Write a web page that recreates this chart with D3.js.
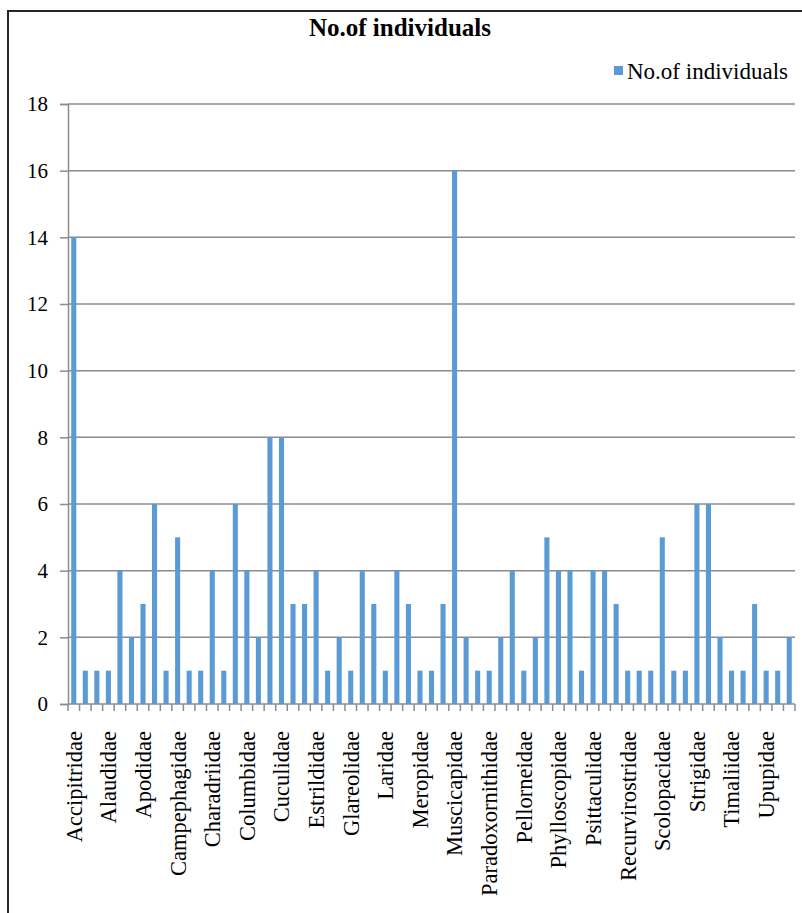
<!DOCTYPE html>
<html>
<head>
<meta charset="utf-8">
<script src="https://cdn.jsdelivr.net/npm/d3@7/dist/d3.min.js"></script>
<style>
  html, body { margin: 0; padding: 0; background: #fff; }
  svg { display: block; }
  svg text { font-family: "Liberation Serif", "Times New Roman", serif; }
</style>
</head>
<body>
<div id="chart"></div>
<script>
// ── Data ──────────────────────────────────────────────────────────────────────
// 63 bird families; the chart only prints every third name on the axis.

const families = [
  'Accipitridae', 'Acrocephalidae', 'Aegithalidae',
  'Alaudidae', 'Alcedinidae', 'Anatidae',
  'Apodidae', 'Ardeidae', 'Burhinidae',
  'Campephagidae', 'Caprimulgidae', 'Certhiidae',
  'Charadriidae', 'Ciconiidae', 'Cisticolidae',
  'Columbidae', 'Coraciidae', 'Corvidae',
  'Cuculidae', 'Dicaeidae', 'Dicruridae',
  'Estrildidae', 'Falconidae', 'Fringillidae',
  'Glareolidae', 'Hirundinidae', 'Jacanidae',
  'Laridae', 'Leiothrichidae', 'Megalaimidae',
  'Meropidae', 'Monarchidae', 'Motacillidae',
  'Muscicapidae', 'Nectariniidae', 'Oriolidae',
  'Paradoxornithidae', 'Paridae', 'Passeridae',
  'Pellorneidae', 'Phalacrocoracidae', 'Phasianidae',
  'Phylloscopidae', 'Picidae', 'Podicipedidae',
  'Psittaculidae', 'Pycnonotidae', 'Rallidae',
  'Recurvirostridae', 'Rhipiduridae', 'Rostratulidae',
  'Scolopacidae', 'Sittidae', 'Stenostiridae',
  'Strigidae', 'Sturnidae', 'Sylviidae',
  'Timaliidae', 'Turdidae', 'Turnicidae',
  'Upupidae', 'Vangidae', 'Zosteropidae',
];

const individuals = [
  14, 1, 1,   1, 4, 2,   3, 6, 1,   5, 1, 1,
  4, 1, 6,    4, 2, 8,   8, 3, 3,   4, 1, 2,
  1, 4, 3,    1, 4, 3,   1, 1, 3,   16, 2, 1,
  1, 2, 4,    1, 2, 5,   4, 4, 1,   4, 4, 3,
  1, 1, 1,    5, 1, 1,   6, 6, 2,   1, 1, 3,
  1, 1, 2,
];

const yTicks = [0, 2, 4, 6, 8, 10, 12, 14, 16, 18];
const seriesName = 'No.of individuals';
const chartTitle = 'No.of individuals';

// ── Layout ────────────────────────────────────────────────────────────────────

const W = 802, H = 913;
const plot = { left: 68, right: 795, top: 104, bottom: 704 };
const barColor = '#5B9BD5';
const lineColor = '#8C8C8C';
const serif = '"Liberation Serif", "Times New Roman", serif';

const svg = d3.select('#chart')
  .append('svg')
  .attr('width', W)
  .attr('height', H)
  .attr('viewBox', `0 0 ${W} ${H}`);

// outer frame (right / bottom edges fall off the picture)
svg.append('rect')
  .attr('x', 8).attr('y', 11)
  .attr('width', W).attr('height', H)
  .attr('fill', '#fff')
  .attr('stroke', '#262626')
  .attr('stroke-width', 2);

// ── Scales ────────────────────────────────────────────────────────────────────

const x = d3.scaleBand()
  .domain(families)
  .range([plot.left, plot.right])
  .paddingInner(0.56)
  .paddingOuter(0.28);

const y = d3.scaleLinear()
  .domain([0, 18])
  .range([plot.bottom, plot.top]);

// ── Gridlines + y axis ────────────────────────────────────────────────────────

const yAxis = svg.append('g')
  .attr('transform', `translate(${plot.left},0)`)
  .call(d3.axisLeft(y).tickValues(yTicks).tickSize(8).tickPadding(12));

yAxis.select('.domain').attr('stroke', lineColor).attr('stroke-width', 1.5);
yAxis.selectAll('.tick line').attr('stroke', lineColor).attr('stroke-width', 1.5);
yAxis.selectAll('.tick text')
  .attr('font-size', 21)
  .attr('font-family', serif)
  .attr('fill', '#000');

svg.append('g')
  .selectAll('line')
  .data(yTicks.filter((t) => t > 0))
  .join('line')
  .attr('x1', plot.left)
  .attr('x2', plot.right)
  .attr('y1', (d) => y(d))
  .attr('y2', (d) => y(d))
  .attr('stroke', lineColor)
  .attr('stroke-width', 1.5);

// ── Bars ──────────────────────────────────────────────────────────────────────

const data = families.map((f, i) => ({ label: f, value: individuals[i] }));

svg.append('g')
  .selectAll('rect')
  .data(data)
  .join('rect')
  .attr('x', (d) => x(d.label))
  .attr('y', (d) => y(d.value))
  .attr('width', x.bandwidth())
  .attr('height', (d) => y(0) - y(d.value))
  .attr('fill', barColor);

// ── X axis: category boundary ticks + every third label ──────────────────────

const step = x.step();
const edges = d3.range(families.length + 1).map((i) => plot.left + i * step);

svg.append('line')
  .attr('x1', plot.left).attr('x2', plot.right)
  .attr('y1', plot.bottom).attr('y2', plot.bottom)
  .attr('stroke', lineColor)
  .attr('stroke-width', 1.5);

svg.append('g')
  .selectAll('line')
  .data(edges)
  .join('line')
  .attr('x1', (d) => d).attr('x2', (d) => d)
  .attr('y1', plot.bottom).attr('y2', plot.bottom + 7)
  .attr('stroke', lineColor)
  .attr('stroke-width', 1.5);

svg.append('g')
  .selectAll('text')
  .data(families.filter((f, i) => i % 3 === 0))
  .join('text')
  .attr('transform', (d) => `translate(${x(d) + x.bandwidth() / 2},${plot.bottom + 27}) rotate(-90)`)
  .attr('text-anchor', 'end')
  .attr('dy', '0.35em')
  .attr('font-family', serif)
  .attr('font-size', 22.5)
  .attr('fill', '#000')
  .text((d) => d);

// ── Title + legend ────────────────────────────────────────────────────────────

svg.append('text')
  .attr('x', 400)
  .attr('y', 36)
  .attr('text-anchor', 'middle')
  .attr('font-family', serif)
  .attr('font-size', 25)
  .attr('font-weight', 'bold')
  .attr('fill', '#000')
  .text(chartTitle);

const legend = svg.append('g').attr('transform', 'translate(614,66)');
legend.append('rect')
  .attr('width', 9).attr('height', 9)
  .attr('fill', barColor);
legend.append('text')
  .attr('x', 13)
  .attr('y', 13)
  .attr('font-family', serif)
  .attr('font-size', 23)
  .attr('fill', '#000')
  .text(seriesName);
</script>
</body>
</html>
